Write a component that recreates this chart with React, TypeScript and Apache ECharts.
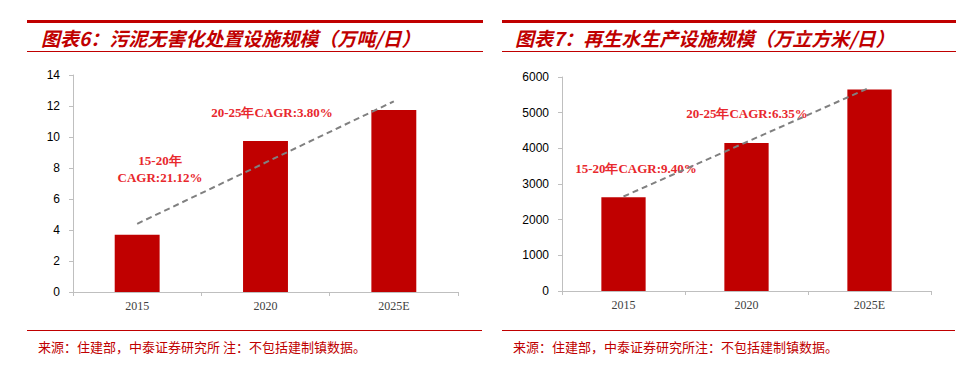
import React, { useEffect, useRef } from "react";
import * as echarts from "echarts";

const categories = ["2015", "2020", "2025E"];
const sludgeValues = [3.7, 9.75, 11.75];
const sludgeTrend = [4.4, null, 12.3];
const waterValues = [2630, 4150, 5650];
const waterTrend = [2650, null, 5700];

const title1 = "图表6：污泥无害化处置设施规模（万吨/日）";
const title2 = "图表7：再生水生产设施规模（万立方米/日）";
const foot1 = "来源：住建部，中泰证券研究所 注：不包括建制镇数据。";
const foot2 = "来源：住建部，中泰证券研究所注：不包括建制镇数据。";
const note1a = "20-25年CAGR:3.80%";
const note1b = "15-20年";
const note1c = "CAGR:21.12%";
const note2a = "20-25年CAGR:6.35%";
const note2b = "15-20年CAGR:9.40%";

const DARK_RED = "#c00000";
const NOTE_RED = "#e8282d";

export default function App() {
  const ref = useRef<HTMLDivElement>(null);
  useEffect(() => {
    if (!ref.current) return;
    const chart = echarts.init(ref.current, null, { renderer: "svg" });
    const yAxisCommon = {
      type: "value",
      axisLine: { show: true, lineStyle: { color: "#bfbfbf", width: 1 } },
      axisTick: { show: true, length: 4, lineStyle: { color: "#bfbfbf" } },
      splitLine: { show: false },
      axisLabel: {
        color: "#000",
        fontFamily: "Liberation Sans",
        fontSize: 12,
        margin: 13,
        formatter: (v: number) => String(v),
      },
    };
    const xAxisCommon = {
      type: "category",
      data: categories,
      axisLine: { show: true, lineStyle: { color: "#bfbfbf", width: 1 } },
      axisTick: { show: true, length: 4, alignWithLabel: false, lineStyle: { color: "#bfbfbf" } },
      axisLabel: { color: "#404040", fontFamily: "Liberation Serif", fontSize: 12, margin: 8 },
    };
    const noteStyle = (text: string) => ({
      text,
      fill: NOTE_RED,
      font: "bold 13px 'Liberation Serif'",
      align: "center",
      verticalAlign: "middle",
    });
    const titleStyle = (text: string) => ({
      text,
      fill: DARK_RED,
      font: "italic bold 19px 'Noto Sans CJK SC'",
      align: "left",
      verticalAlign: "middle",
    });
    const footStyle = (text: string) => ({
      text,
      fill: DARK_RED,
      font: "13px 'Noto Sans CJK SC'",
      align: "left",
      verticalAlign: "middle",
    });
    chart.setOption({
      animation: false,
      grid: [
        { left: 73, right: 513, top: 75, bottom: 78 },
        { left: 562, right: 40, top: 77, bottom: 79 },
      ],
      xAxis: [
        { ...xAxisCommon, gridIndex: 0 },
        { ...xAxisCommon, gridIndex: 1 },
      ],
      yAxis: [
        { ...yAxisCommon, gridIndex: 0, min: 0, max: 14, interval: 2 },
        { ...yAxisCommon, gridIndex: 1, min: 0, max: 6000, interval: 1000 },
      ],
      series: [
        {
          type: "bar",
          xAxisIndex: 0,
          yAxisIndex: 0,
          data: sludgeValues,
          barWidth: "35%",
          itemStyle: { color: DARK_RED },
        },
        {
          type: "line",
          xAxisIndex: 0,
          yAxisIndex: 0,
          data: sludgeTrend,
          connectNulls: true,
          symbol: "none",
          lineStyle: { color: "#808080", width: 2, type: [6, 4] },
          z: 5,
        },
        {
          type: "bar",
          xAxisIndex: 1,
          yAxisIndex: 1,
          data: waterValues,
          barWidth: "36%",
          itemStyle: { color: DARK_RED },
        },
        {
          type: "line",
          xAxisIndex: 1,
          yAxisIndex: 1,
          data: waterTrend,
          connectNulls: true,
          symbol: "none",
          lineStyle: { color: "#808080", width: 2, type: [6, 4] },
          z: 5,
        },
      ],
      graphic: [
        { type: "rect", shape: { x: 27, y: 20, width: 456, height: 3 }, style: { fill: DARK_RED } },
        { type: "rect", shape: { x: 27, y: 51, width: 456, height: 1 }, style: { fill: DARK_RED } },
        { type: "rect", shape: { x: 502, y: 20, width: 454, height: 3 }, style: { fill: DARK_RED } },
        { type: "rect", shape: { x: 502, y: 51, width: 454, height: 1 }, style: { fill: DARK_RED } },
        { type: "rect", shape: { x: 27, y: 330, width: 455, height: 1 }, style: { fill: DARK_RED } },
        { type: "rect", shape: { x: 502, y: 330, width: 453, height: 1 }, style: { fill: DARK_RED } },
        { type: "text", x: 41, y: 37, style: titleStyle(title1) },
        { type: "text", x: 515, y: 37, style: titleStyle(title2) },
        { type: "text", x: 38, y: 346, style: footStyle(foot1) },
        { type: "text", x: 513, y: 346, style: footStyle(foot2) },
        { type: "text", x: 272, y: 112, style: noteStyle(note1a) },
        { type: "text", x: 160, y: 160, style: noteStyle(note1b) },
        { type: "text", x: 160, y: 177, style: noteStyle(note1c) },
        { type: "text", x: 747, y: 113, style: noteStyle(note2a) },
        { type: "text", x: 636, y: 168, style: noteStyle(note2b) },
      ],
    });
    return () => chart.dispose();
  }, []);
  return (
    <div
      ref={ref}
      style={{ position: "absolute", left: 0, top: 0, width: 971, height: 370, background: "#fff" }}
    />
  );
}
